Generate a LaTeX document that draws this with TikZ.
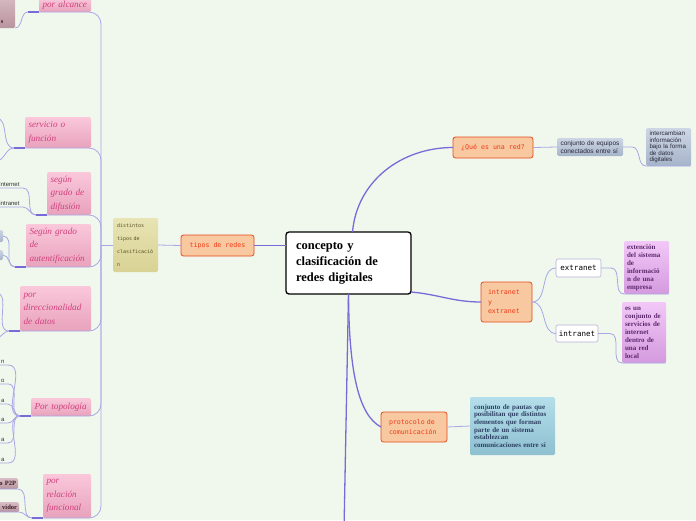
\documentclass[tikz,border=0pt]{standalone}
\usepackage{fontspec}
\setmainfont{Liberation Serif}
\setsansfont{Liberation Sans}
\setmonofont{DejaVu Sans Mono}
\usepackage{tikz}
\usetikzlibrary{positioning,calc}

\definecolor{bgmint}{HTML}{F0F8ED}
\definecolor{linkline}{HTML}{A9A6E6}
\definecolor{mainline}{HTML}{7A6AD8}
\definecolor{orfill}{HTML}{F8C8A0}
\definecolor{ordraw}{HTML}{E84A1C}
\definecolor{ortext}{HTML}{F03A18}
\definecolor{pinktop}{HTML}{FAC8DA}
\definecolor{pinkbot}{HTML}{E8A2BC}
\definecolor{pinktext}{HTML}{D2407E}
\definecolor{khakitop}{HTML}{E8E4B4}
\definecolor{khakibot}{HTML}{D8D294}
\definecolor{khakitext}{HTML}{5A5224}
\definecolor{greytop}{HTML}{CDD6E4}
\definecolor{greybot}{HTML}{A6B4CA}
\definecolor{greytext}{HTML}{2A2A3A}
\definecolor{termdraw}{HTML}{B4B2D4}
\definecolor{purptop}{HTML}{F2C8F8}
\definecolor{purpbot}{HTML}{D49ADE}
\definecolor{purptext}{HTML}{5E2A6E}
\definecolor{cyantop}{HTML}{B4DEEA}
\definecolor{cyanbot}{HTML}{8EC0D0}
\definecolor{cyantext}{HTML}{2E4064}
\definecolor{browntop}{HTML}{D8BCC4}
\definecolor{brownbot}{HTML}{B8949E}
\definecolor{browntext}{HTML}{3C1E28}
\definecolor{leaftext}{HTML}{303030}

\begin{document}
\begin{tikzpicture}[
  x=1pt, y=-1pt,
  every node/.style={inner sep=0pt, outer sep=0pt},
  central/.style={rectangle, draw=black, line width=1.3pt, fill=white, rounded corners=3pt,
                  anchor=north west, align=left, inner xsep=10pt,
                  font=\fontsize{12.5}{16}\selectfont\bfseries},
  topic/.style={rectangle, draw=ordraw, line width=0.8pt, fill=orfill, rounded corners=2.5pt,
                anchor=north west, inner xsep=4pt, text=ortext,
                font=\ttfamily\fontsize{6.6}{9.5}\selectfont},
  kindbox/.style={rectangle, rounded corners=2pt, top color=pinktop, bottom color=pinkbot,
                  anchor=north west, align=left, inner xsep=3.5pt, text=pinktext,
                  font=\fontsize{9.2}{13.5}\selectfont\itshape},
  classbox/.style={rectangle, rounded corners=2pt, top color=khakitop, bottom color=khakibot,
                   anchor=north west, align=left, inner xsep=4pt, text=khakitext,
                   font=\ttfamily\fontsize{5}{13}\selectfont},
  notebox/.style={rectangle, rounded corners=1.5pt, top color=greytop, bottom color=greybot,
                  anchor=north west, align=left, inner xsep=3.5pt, text=greytext,
                  font=\sffamily\fontsize{6.5}{8}\selectfont},
  termbox/.style={rectangle, draw=termdraw, line width=0.6pt, fill=white, rounded corners=2pt,
                  anchor=north west, align=center, font=\ttfamily\fontsize{7.5}{9}\selectfont},
  defbox/.style={rectangle, rounded corners=1.5pt, top color=purptop, bottom color=purpbot,
                 anchor=north west, align=left, inner xsep=3pt, text=purptext,
                 font=\fontsize{7}{8}\selectfont\bfseries},
  pautabox/.style={rectangle, rounded corners=1.5pt, top color=cyantop, bottom color=cyanbot,
                   anchor=north west, align=left, inner xsep=4pt, text=cyantext,
                   font=\fontsize{7}{7.7}\selectfont\bfseries},
  cutbox/.style={rectangle, rounded corners=1.5pt, top color=browntop, bottom color=brownbot,
                 anchor=north east, align=right, inner xsep=2pt, text=browntext,
                 font=\fontsize{6.5}{8}\selectfont\bfseries},
  greystub/.style={rectangle, rounded corners=1.5pt, top color=greytop, bottom color=greybot,
                   anchor=north east},
  leafnode/.style={anchor=south east, align=right, text width=30pt, inner xsep=3.5pt,
                   inner ysep=1.5pt, text=leaftext, font=\sffamily\fontsize{6}{7}\selectfont},
  link/.style={draw=linkline, line width=0.8pt},
  mainlink/.style={draw=mainline, line width=1.3pt},
  stub/.style={draw=mainline, line width=1.4pt},
]
\fill[bgmint] (0,0) rectangle (696,520);
\useasboundingbox (0,0) rectangle (696,520);

\node[central, minimum width=125pt, minimum height=62pt, text width=105pt]
                            (cent)  at (286,232) {concepto y\\clasificación de\\redes digitales};

\node[topic, minimum width=73pt, minimum height=21pt, align=center]
                            (tipos) at (181,235) {tipos de redes};
\node[classbox, minimum width=45pt, minimum height=54pt, text width=37pt]
                            (dist)  at (113,218) {distintos\\tipos de\\clasificació\\n};

\node[kindbox, minimum width=52pt, minimum height=14pt, text width=45pt]
                            (alc)   at (39,-2)   {por alcance};
\node[kindbox, minimum width=66pt, minimum height=31pt, text width=59pt]
                            (serv)  at (25,117)  {servicio o\\función};
\node[kindbox, minimum width=44pt, minimum height=43pt, text width=37pt]
                            (dif)   at (47,172)  {según\\grado de\\difusión};
\node[kindbox, minimum width=65pt, minimum height=43pt, text width=58pt]
                            (aut)   at (26,224)  {Según grado\\de\\autentificación};
\node[kindbox, minimum width=71pt, minimum height=45pt, text width=64pt]
                            (dir)   at (20,286)  {por\\direccionalidad\\de datos};
\node[kindbox, minimum width=60pt, minimum height=18pt, text width=53pt]
                            (top)   at (31,398)  {Por topología};
\node[kindbox, minimum width=48pt, minimum height=44pt, text width=41pt]
                            (rel)   at (43,474)  {por\\relación\\funcional};

\node[cutbox, minimum width=30pt, minimum height=33pt]
                            (alcc)  at (15,-5)   {};
\node[anchor=base east, text=browntext, font=\fontsize{6.5}{8}\selectfont\bfseries]
                            (alcs)  at (3.5,23)  {s};
\node[greystub, minimum width=25pt, minimum height=12pt]
                            (autA)  at (3,230)   {};
\node[greystub, minimum width=25pt, minimum height=10pt]
                            (autB)  at (3,250)   {};
\node[leafnode]             (net)   at (23,188)  {Internet};
\node[leafnode]             (ntr)   at (23,207)  {intranet};
\foreach \ltr/\yy [count=\i] in {n/365, o/384, a/404, a/423, a/443, a/463}
  \node[leafnode]           (topo\i) at (8,\yy)  {\ltr};
\node[cutbox, minimum width=40pt, minimum height=11pt, text width=36pt]
                            (p2p)   at (18,478)  {o P2P};
\node[cutbox, minimum width=40pt, minimum height=10pt, text width=36pt]
                            (srvd)  at (19,502)  {vidor};

\node[topic, minimum width=80pt, minimum height=21pt, align=center]
                            (qred)  at (453,137) {¿Qué es una red?};
\node[notebox, minimum width=66pt, minimum height=18pt, text width=59pt]
                            (conj)  at (557,138) {conjunto de equipos\\conectados entre sí};
\node[notebox, minimum width=45pt, minimum height=38pt, text width=38pt,
      font=\sffamily\fontsize{6.2}{6.6}\selectfont]
                            (inter) at (646,128) {intercambian\\información\\bajo la forma\\de datos\\digitales};

\node[topic, minimum width=51pt, minimum height=40pt, text width=37pt, align=left, inner xsep=7pt]
                            (iyx)   at (481,282) {intranet\\y\\extranet};
\node[termbox, minimum width=45pt, minimum height=18pt]
                            (extr)  at (556,259) {extranet};
\node[termbox, minimum width=42pt, minimum height=17pt]
                            (intr)  at (556,325) {intranet};
\node[defbox, minimum width=45pt, minimum height=53pt, text width=39pt]
                            (pext)  at (624,241) {extención\\del sistema\\de\\informació\\n de una\\empresa};
\node[defbox, minimum width=44pt, minimum height=61pt, text width=38pt]
                            (pint)  at (622,302) {es un\\conjunto de\\servicios de\\internet\\dentro de\\una red\\local};

\node[topic, minimum width=66pt, minimum height=30pt, text width=50pt, align=left, inner xsep=8pt]
                            (proto) at (381,412) {protocolo de\\comunicación};
\node[pautabox, minimum width=85pt, minimum height=58pt, text width=77pt]
                            (pcom)  at (470,397) {conjunto de pautas que\\posibilitan que distintos\\elementos que forman\\parte de un sistema\\establezcan\\comunicaciones entre sí};

\coordinate (hub)   at (101,245);
\coordinate (below) at (344,530);
\coordinate (servA) at (-4,118);
\coordinate (servB) at (-4,161);
\coordinate (dirA)  at (-4,293);
\coordinate (dirB)  at (-4,338);
\foreach \k in {alc,serv,dif,aut,dir,top,rel}
  \coordinate (j\k) at ($(\k.south west)+(-11,0)$);

\draw[mainlink] (tipos.east) -- (cent.west |- tipos.east);
\draw[link] (dist.east) -- (tipos.west);
\draw[link] (dist.west) -- (hub);
\foreach \k in {alc,serv,dif,aut,dir,top,rel}
  \draw[link, rounded corners=12pt] (hub) |- (j\k);
\foreach \k in {alc,serv,dif,aut,dir,top,rel}
  \draw[stub] (j\k) -- (\k.south west);

\draw[link] (alcc.south east) to[out=0,in=180] (jalc);
\draw[link] (servA) to[out=0,in=180] (jserv);
\draw[link] (servB) to[out=0,in=180] (jserv);
\draw[link] (net.south west) -- (net.south east) to[out=0,in=180] (jdif);
\draw[link] (ntr.south west) -- (ntr.south east) to[out=0,in=180] (jdif);
\draw[link] (autA.east) to[out=0,in=180] (jaut);
\draw[link] (autB.east) to[out=0,in=180] (jaut);
\draw[link] (dirA) to[out=0,in=180] (jdir);
\draw[link] (dirB) to[out=0,in=180] (jdir);
\foreach \i in {1,...,6}
  \draw[link] (topo\i.south west) -- (topo\i.south east) to[out=0,in=180] (jtop);
\draw[link] (p2p.south west) -- (p2p.south east) to[out=0,in=180] (jrel);
\draw[link] (srvd.south west) -- (srvd.south east) to[out=0,in=180] (jrel);

\draw[mainlink] ($(cent.north)+(4,0)$) to[out=85,in=180] (qred.west);
\draw[link] (qred.east) -- (conj.west);
\draw[link] (conj.east) -- ++(9,0) to[out=0,in=180] (inter.south west) -- (inter.south east);
\draw[mainlink] ($(cent.south east)+(0,-2)$) to[out=-5,in=180] (iyx.west);
\draw[link] (iyx.east) to[out=0,in=180] (extr.west);
\draw[link] (iyx.east) to[out=0,in=180] (intr.west);
\draw[link] (extr.east) -- ++(10,0) to[out=0,in=180] (pext.south west) -- (pext.south east);
\draw[link] (intr.east) -- ++(12,0) to[out=0,in=180] (pint.south west) -- (pint.south east);
\draw[mainlink] (cent.south) .. controls (349,370) and (358,415) .. (proto.west);
\draw[mainlink] (cent.south) -- (below);
\draw[link] (proto.east) -- (pcom.west);
\end{tikzpicture}
\end{document}
